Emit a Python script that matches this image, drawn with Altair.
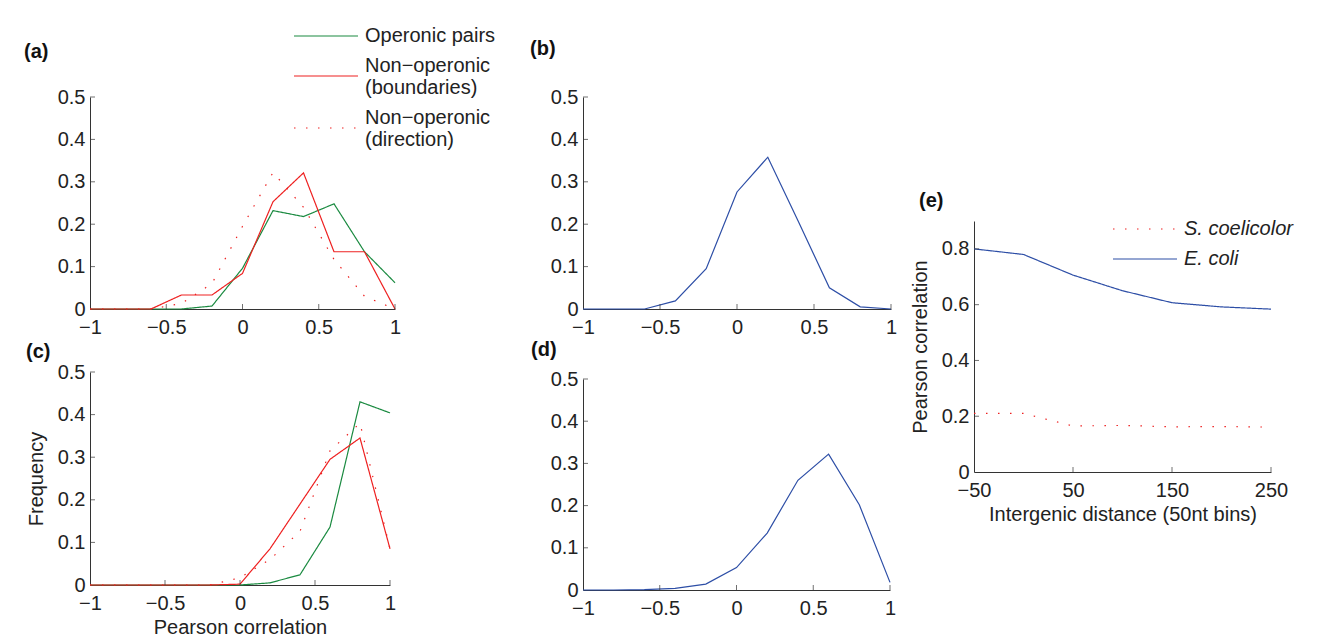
import altair as alt
import pandas as pd

FONT = "Liberation Sans"

# ---------------- data ----------------
bins = [-1, -0.8, -0.6, -0.4, -0.2, 0, 0.2, 0.4, 0.6, 0.8, 1]

a_operonic = [0, 0, 0, 0, 0.007, 0.096, 0.232, 0.218, 0.248, 0.135, 0.062]
a_boundaries = [0, 0, 0, 0.033, 0.033, 0.084, 0.253, 0.321, 0.135, 0.135, 0]
a_direction = [0, 0, 0, 0.013, 0.06, 0.195, 0.322, 0.24, 0.117, 0.03, 0]

b_values = [0, 0, 0, 0.019, 0.095, 0.276, 0.358, 0.205, 0.05, 0.005, 0]

c_operonic = [0, 0, 0, 0, 0, 0, 0.005, 0.024, 0.136, 0.43, 0.404]
c_boundaries = [0, 0, 0, 0, 0, 0.002, 0.085, 0.19, 0.295, 0.345, 0.085]
c_direction = [0, 0, 0, 0, 0, 0.017, 0.06, 0.126, 0.315, 0.38, 0.085]

d_values = [0, 0, 0.001, 0.004, 0.014, 0.053, 0.135, 0.26, 0.322, 0.202, 0.018]

e_distance = [-50, 0, 50, 100, 150, 200, 250]
e_scoelicolor = [0.21, 0.21, 0.165, 0.167, 0.162, 0.163, 0.161]
e_ecoli = [0.80, 0.78, 0.706, 0.65, 0.607, 0.592, 0.584]

series_names = ["Operonic pairs", "Non\u2212operonic|(boundaries)", "Non\u2212operonic|(direction)"]
series_colors = ["#1a8a40", "#ee2020", "#ee2020"]
series_dash = [[1, 0], [1, 0], [1.5, 10.5]]

e_names = ["S. coelicolor", "E. coli"]
e_colors = ["#ee2020", "#2d4ea6"]
e_dash = [[1.5, 10.5], [1, 0]]

x_ticks = [-1, -0.5, 0, 0.5, 1]
y_ticks = [0, 0.1, 0.2, 0.3, 0.4, 0.5]
e_x_ticks = [-50, 50, 150, 250]
e_y_ticks = [0, 0.2, 0.4, 0.6, 0.8]

BLUE = "#2d4ea6"
AXIS_COLOR = "#333333"
LINE_SYMBOL = "M-4,0H4"   # 64 px long line at symbolSize 256
# two-line legend labels: drop the line to the middle of the label block
LINE_SYMBOL_EXPR = "indexof(datum.value, '|') >= 0 ? 'M-4,1.25H4' : 'M-4,0H4'"


def series_frame(lists):
    rows = []
    for name, vals in zip(series_names, lists):
        for xv, v in zip(bins, vals):
            rows.append({"x": xv, "freq": v, "series": name})
    return pd.DataFrame(rows)


def single_frame(vals):
    return pd.DataFrame({"x": bins, "freq": vals})


def axis(values, title=None, horizontal=True, fmt="~g"):
    return alt.Axis(values=values, title=title, grid=False, ticks=False, format=fmt,
                    domainColor=AXIS_COLOR, domainWidth=1,
                    labelFont=FONT, labelFontSize=20, labelColor="#222222",
                    titleFont=FONT, titleFontSize=20, titleColor="#222222",
                    titleFontWeight="normal", labelPadding=8 if horizontal else 5,
                    labelFlush=False, labelOverlap=False,
                    titlePadding=4 if horizontal else 11)


def inward_ticks(xvals, yvals, xdom, ydom, h, xaxis, yaxis, xfield="x", yfield="freq"):
    xt = alt.Chart(pd.DataFrame({xfield: xvals[1:]})).mark_tick(
        color=AXIS_COLOR, thickness=1, size=5, orient="vertical"
    ).encode(
        x=alt.X(f"{xfield}:Q", scale=alt.Scale(domain=xdom, nice=False), axis=xaxis),
        y=alt.value(h - 2.5),
    )
    yt = alt.Chart(pd.DataFrame({yfield: yvals[1:]})).mark_tick(
        color=AXIS_COLOR, thickness=1, size=5, orient="horizontal"
    ).encode(
        y=alt.Y(f"{yfield}:Q", scale=alt.Scale(domain=ydom, nice=False), axis=yaxis),
        x=alt.value(2.5),
    )
    return [xt, yt]


def title(label, dx, offset, dy=0):
    return alt.TitleParams(text=label, anchor="start", frame="group", dx=dx, dy=dy,
                           offset=offset, font=FONT, fontSize=20,
                           fontWeight="bold", color="#111111")


def spacer(h):
    return alt.Chart(pd.DataFrame({"v": [0]})).mark_point(opacity=0, size=1).encode(
        x=alt.value(0), y=alt.value(0)
    ).properties(width=10, height=h)


def multi_panel(lists, w, h, ttl, legend, xtitle=None, ytitle=None):
    df = series_frame(lists)
    xa = axis(x_ticks, xtitle, True)
    ya = axis(y_ticks, ytitle, False)
    lines = alt.Chart(df).mark_line(strokeWidth=1.2).encode(
        x=alt.X("x:Q", scale=alt.Scale(domain=[-1, 1], nice=False), axis=xa),
        y=alt.Y("freq:Q", scale=alt.Scale(domain=[0, 0.5], nice=False), axis=ya),
        color=alt.Color("series:N", scale=alt.Scale(domain=series_names, range=series_colors),
                        legend=legend),
        strokeDash=alt.StrokeDash("series:N", scale=alt.Scale(domain=series_names, range=series_dash),
                                  legend=legend),
        order=alt.Order("series:N"),
    )
    layers = [lines] + inward_ticks(x_ticks, y_ticks, [-1, 1], [0, 0.5], h, xa, ya)
    return alt.layer(*layers).properties(width=w, height=h, title=ttl)


def blue_panel(vals, w, h, ttl):
    df = single_frame(vals)
    xa = axis(x_ticks, None, True)
    ya = axis(y_ticks, None, False)
    line = alt.Chart(df).mark_line(strokeWidth=1.2, color=BLUE).encode(
        x=alt.X("x:Q", scale=alt.Scale(domain=[-1, 1], nice=False), axis=xa),
        y=alt.Y("freq:Q", scale=alt.Scale(domain=[0, 0.5], nice=False), axis=ya),
    )
    layers = [line] + inward_ticks(x_ticks, y_ticks, [-1, 1], [0, 0.5], h, xa, ya)
    return alt.layer(*layers).properties(width=w, height=h, title=ttl)


legend_a = alt.Legend(
    title=None, orient="none", legendX=226, legendY=-71,
    symbolType=alt.ExprRef(LINE_SYMBOL_EXPR), symbolSize=256, symbolStrokeWidth=1.2,
    labelFont=FONT, labelFontSize=20, labelColor="#222222", labelLimit=400,
    labelExpr="split(datum.label, '|')", labelOffset=29, rowPadding=10, padding=0,
)

panel_a = multi_panel([a_operonic, a_boundaries, a_direction], 305, 212,
                      title("(a)", -66, 25), legend_a)
panel_c = multi_panel([c_operonic, c_boundaries, c_direction], 300, 213,
                      title("(c)", -64, 0, 0), None,
                      xtitle="Pearson correlation", ytitle="Frequency")
panel_b = blue_panel(b_values, 308, 212, title("(b)", -53, 28))
panel_d = blue_panel(d_values, 307, 211, title("(d)", -52, 9))

# panel (e)
e_rows = []
for name, vals in zip(e_names, [e_scoelicolor, e_ecoli]):
    for xv, v in zip(e_distance, vals):
        e_rows.append({"dist": xv, "corr": v, "species": name})
e_df = pd.DataFrame(e_rows)

legend_e = alt.Legend(
    title=None, orient="none", legendX=161, legendY=122,
    symbolType=LINE_SYMBOL, symbolSize=256, symbolStrokeWidth=1.2,
    labelFont=FONT, labelFontSize=20, labelFontStyle="italic", labelColor="#222222",
    labelLimit=400, labelOffset=29, rowPadding=10, padding=0,
)

exa = axis(e_x_ticks, "Intergenic distance (50nt bins)", True, "d")
eya = axis(e_y_ticks, "Pearson correlation", False)
e_lines = alt.Chart(e_df).mark_line(strokeWidth=1.2).encode(
    x=alt.X("dist:Q", scale=alt.Scale(domain=[-50, 250], nice=False), axis=exa),
    y=alt.Y("corr:Q", scale=alt.Scale(domain=[0, 0.9], nice=False), axis=eya),
    color=alt.Color("species:N", scale=alt.Scale(domain=e_names, range=e_colors), legend=legend_e),
    strokeDash=alt.StrokeDash("species:N", scale=alt.Scale(domain=e_names, range=e_dash), legend=legend_e),
)
panel_e = alt.layer(
    e_lines, *inward_ticks(e_x_ticks, e_y_ticks, [-50, 250], [0, 0.9], 251, exa, eya,
                           xfield="dist", yfield="corr")
).properties(width=297, height=251, title=title("(e)", -55, 10))

col1 = alt.vconcat(panel_a, panel_c, spacing=5)
col2 = alt.vconcat(panel_b, panel_d, spacing=3)
col3 = alt.vconcat(spacer(94), panel_e, spacing=0)

left = alt.hconcat(col1, col2, spacing=34).resolve_scale(
    color="independent", strokeDash="independent"
)
chart = alt.hconcat(left, col3, spacing=13).resolve_scale(
    color="independent", strokeDash="independent"
).properties(
    padding={"left": 16, "top": 18, "right": 5, "bottom": 5},
    background="white",
).configure_view(stroke=None)

chart.save("out.html", embed_options={"renderer": "svg", "actions": False})
